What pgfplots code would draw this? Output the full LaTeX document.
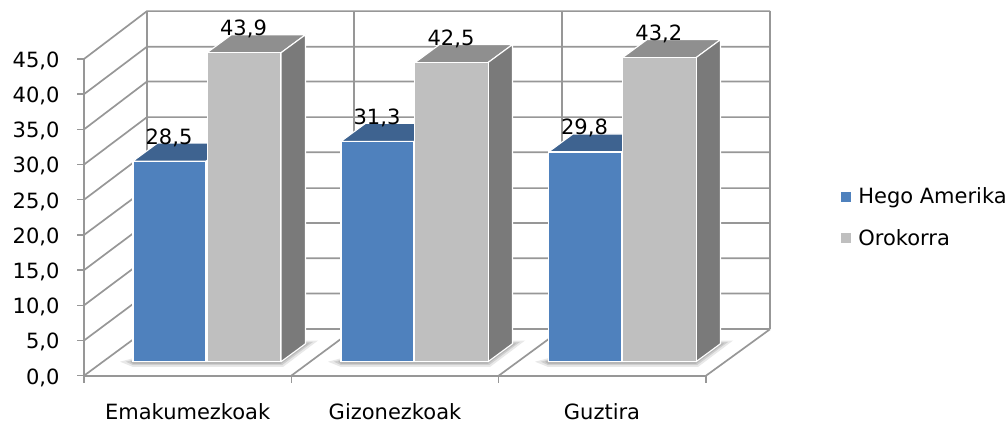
\documentclass[border=0pt]{standalone}
\usepackage{fontspec}
\setmainfont{DejaVu Sans}
\usepackage{pgfplots}
\pgfplotsset{compat=1.18}
\definecolor{gridc}{HTML}{979797}
\definecolor{blueF}{HTML}{4F81BD}
\definecolor{blueT}{HTML}{3E6390}
\definecolor{greyF}{HTML}{BFBFBF}
\definecolor{greyT}{HTML}{8F8F8F}
\definecolor{greyS}{HTML}{7A7A7A}
\pgfplotsset{
  common/.style={
    scale only axis, width=622pt, height=316.7pt,
    xmin=84, xmax=706, ymin=0, ymax=45, clip=false,
    /pgf/number format/.cd, use comma, fixed, fixed zerofill, precision=1, assume math mode=true,
    /pgfplots/.cd,
    tick label style={font=\fontsize{21}{25}\selectfont, text=black},
  },
  wall/.style={draw=gridc, line width=1.7pt, no markers, forget plot},
  face/.style={draw=white, line width=1.1pt, no markers, forget plot, line join=round},
  shad/.style={fill=gray, draw=none, no markers, forget plot},
}
\begin{document}
\begin{tikzpicture}
\path[use as bounding box] (0pt,0pt) rectangle (1008pt,425pt);
% frame: walls, floor and axes
\begin{axis}[common, at={(84pt,49.3pt)}, anchor=origin,
  axis x line=bottom, axis y line=left, axis line style={-, draw=gridc, line width=1.7pt},
  tick align=outside, major tick length=7pt,
  ytick={0,5,...,45}, ytick style={draw=gridc, line width=1.4pt},
  yticklabel style={xshift=-14pt, yshift=-1.8pt},
  xtick={187.7,395,602}, xticklabels={Emakumezkoak,Gizonezkoak,Guztira},
  xtick style={draw=none},
  xticklabel style={text height=16pt, text depth=0pt, inner ysep=0pt, anchor=north, yshift=-20.5pt},
  extra x ticks={84,291.3,498.7,706}, extra x tick labels={},
  extra x tick style={xtick style={draw=gridc, line width=1.4pt}},
]
\addplot[wall] coordinates {(147,6.6)(770,6.6)};
\addplot[wall] coordinates {(84,0)(147,6.6)};
\addplot[wall] coordinates {(291.3,0)(354,6.6)};
\addplot[wall] coordinates {(498.7,0)(562,6.6)};
\addplot[wall] coordinates {(706,0)(770,6.6)};
\addplot[wall] coordinates {(84,5)(147,11.67)(770,11.67)};
\addplot[wall] coordinates {(84,10)(147,16.7)(770,16.7)};
\addplot[wall] coordinates {(84,15)(147,21.7)(770,21.7)};
\addplot[wall] coordinates {(84,20)(147,26.65)(770,26.65)};
\addplot[wall] coordinates {(84,25)(147,31.75)(770,31.75)};
\addplot[wall] coordinates {(84,30)(147,36.74)(770,36.74)};
\addplot[wall] coordinates {(84,35)(147,41.8)(770,41.8)};
\addplot[wall] coordinates {(84,40)(147,46.75)(770,46.75)};
\addplot[wall] coordinates {(84,45)(147,51.8)(770,51.8)};
\addplot[wall] coordinates {(147,6.6)(147,51.8)};
\addplot[wall] coordinates {(354,6.6)(354,51.8)};
\addplot[wall] coordinates {(562,6.6)(562,51.8)};
\addplot[wall] coordinates {(770,6.6)(770,51.8)};
\end{axis}
% bars
\begin{axis}[common, at={(84pt,63.3pt)}, anchor=origin,
  axis lines=none,
  nodes near coords,
  every node near coord/.append style={anchor=base, yshift=17pt, xshift=-0.5pt,
    font=\fontsize{21}{25}\selectfont, text=black, inner sep=0pt},
  legend style={draw=none, fill=none, at={(axis cs:840,20.5)}, anchor=west,
    font=\fontsize{21}{25}\selectfont, text=black, row sep=24pt, inner sep=0pt,
    nodes={inner sep=0pt},
    /tikz/every odd column/.append style={column sep=6.5pt}},
  legend cell align=left,
  legend image code/.code={\fill[#1] (0pt,-5.5pt) rectangle (10.5pt,5.5pt);},
]
% floor shadows
\addplot[shad, opacity=.18, nodes near coords={}] coordinates {(120,0)(133,-.75)(283,-.75)(318,3.0)(305,3.0)(200,3)} --cycle;
\addplot[shad, opacity=.25, nodes near coords={}] coordinates {(126,0)(133,-.5)(282,-.5)(313,2.8)(305,2.8)(200,3)} --cycle;
\addplot[shad, opacity=.30, nodes near coords={}] coordinates {(130,0)(133,-.3)(281,-.3)(309,2.6)(305,2.6)(200,3)} --cycle;
\addplot[shad, opacity=.18, nodes near coords={}] coordinates {(328,0)(341,-.75)(490,-.75)(525,3.0)(512,3.0)(408,3)} --cycle;
\addplot[shad, opacity=.25, nodes near coords={}] coordinates {(334,0)(341,-.5)(489,-.5)(520,2.8)(512,2.8)(408,3)} --cycle;
\addplot[shad, opacity=.30, nodes near coords={}] coordinates {(338,0)(341,-.3)(488,-.3)(516,2.6)(512,2.6)(408,3)} --cycle;
\addplot[shad, opacity=.18, nodes near coords={}] coordinates {(535,0)(548,-.75)(698,-.75)(733,3.0)(721,3.0)(615,3)} --cycle;
\addplot[shad, opacity=.25, nodes near coords={}] coordinates {(541,0)(548,-.5)(697,-.5)(728,2.8)(721,2.8)(615,3)} --cycle;
\addplot[shad, opacity=.30, nodes near coords={}] coordinates {(545,0)(548,-.3)(696,-.3)(724,2.6)(721,2.6)(615,3)} --cycle;
% blue tops
\addplot[face, fill=blueT, nodes near coords={}] coordinates {(133,28.5)(206,28.5)(230.5,31.06)(157.5,31.06)} --cycle;
\addplot[face, fill=blueT, nodes near coords={}] coordinates {(341,31.3)(414,31.3)(438.5,33.86)(365.5,33.86)} --cycle;
\addplot[face, fill=blueT, nodes near coords={}] coordinates {(548.5,29.8)(622,29.8)(646.5,32.36)(573,32.36)} --cycle;
% grey tops and sides
\addplot[face, fill=greyT, nodes near coords={}] coordinates {(207,43.9)(281,43.9)(305.5,46.46)(231.5,46.46)} --cycle;
\addplot[face, fill=greyS, nodes near coords={}] coordinates {(281,0)(305.5,2.56)(305.5,46.46)(281,43.9)} --cycle;
\addplot[face, fill=greyT, nodes near coords={}] coordinates {(415,42.5)(488,42.5)(512.5,45.06)(439.5,45.06)} --cycle;
\addplot[face, fill=greyS, nodes near coords={}] coordinates {(488,0)(512.5,2.56)(512.5,45.06)(488,42.5)} --cycle;
\addplot[face, fill=greyT, nodes near coords={}] coordinates {(622.5,43.2)(696,43.2)(720.5,45.76)(647,45.76)} --cycle;
\addplot[face, fill=greyS, nodes near coords={}] coordinates {(696,0)(720.5,2.56)(720.5,45.76)(696,43.2)} --cycle;
% front faces
\addplot[ybar, bar width=73pt, bar shift=0pt, fill=blueF, draw=white, line width=1.1pt] coordinates {(169.5,28.5)(377.5,31.3)(585,29.8)};
\addlegendentry{Hego Amerika}
\addplot[ybar, bar width=73.5pt, bar shift=0pt, fill=greyF, draw=white, line width=1.1pt] coordinates {(244,43.9)(451.5,42.5)(659.3,43.2)};
\addlegendentry{Orokorra}
\end{axis}
\end{tikzpicture}
\end{document}
